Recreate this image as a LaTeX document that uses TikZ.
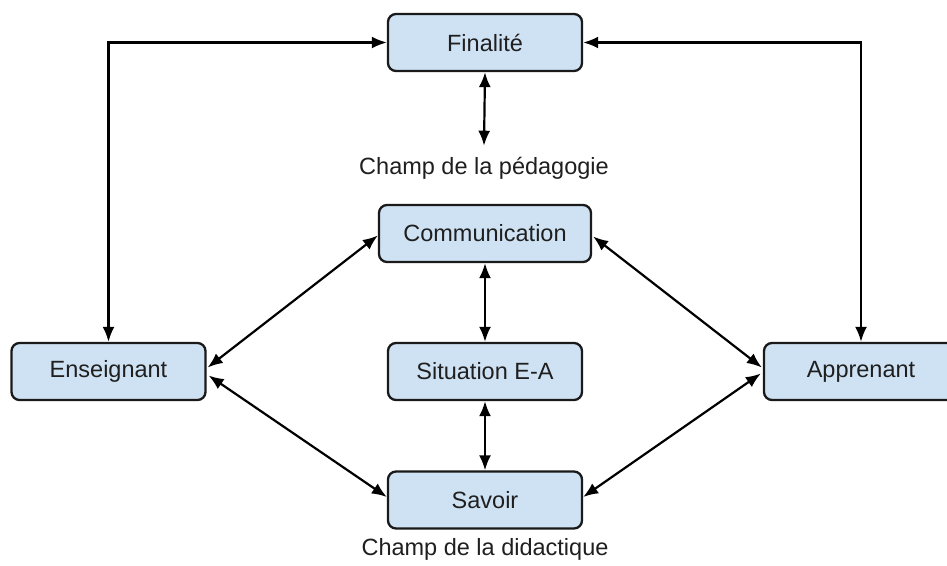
\documentclass[tikz,border=0pt]{standalone}
\usepackage{fontspec}
\setmainfont{Liberation Sans}
\usetikzlibrary{arrows.meta,calc}
\definecolor{boxfill}{HTML}{CFE2F3}
\definecolor{boxline}{HTML}{1A1A1A}
\begin{document}
\begin{tikzpicture}[x=1pt,y=-1pt,
  box/.style={draw=boxline,fill=boxfill,line width=2.3pt,rounded corners=8pt,
    minimum height=57pt,inner sep=0pt,font=\fontsize{23.5}{28}\selectfont,text=black!88},
  lbl/.style={inner sep=0pt,font=\fontsize{23.5}{28}\selectfont,text=black!88},
  conn/.style={line width=2.2pt,{Latex[length=15pt,width=12pt]}-{Latex[length=15pt,width=12pt]}}]
\clip (0,0) rectangle (947,565);
\fill[white] (0,0) rectangle (947,565);
\node[box,minimum width=194pt] (fin) at (485,42.5) {Finalité};
\node[lbl] (ped) at (484,168) {Champ de la pédagogie};
\node[box,minimum width=212pt] (com) at (485,233.5) {Communication};
\node[box,minimum width=194pt] (ens) at (108.5,371.5) {Enseignant};
\node[box,minimum width=194pt] (sit) at (485,371.5) {Situation E-A};
\node[box,minimum width=194pt] (app) at (861,371.5) {Apprenant};
\node[box,minimum width=194pt] (sav) at (485,500) {Savoir};
\node[lbl] (did) at (485,549) {Champ de la didactique};
% connectors
\draw[conn] (fin.west) -| (ens.north);
\draw[conn] (fin.east) -| (app.north);
\draw[conn] (fin.south) -- ($(ped.north)+(0,-11)$);
\draw[conn] (com.south) -- (sit.north);
\draw[conn] (sit.south) -- (sav.north);
\draw[conn] ($(ens.east)+(1,-4)$) -- ($(com.west)+(0,2)$);
\draw[conn] ($(ens.east)+(2,4)$) -- ($(sav.west)+(0,-3)$);
\draw[conn] ($(app.west)+(-1,-4)$) -- ($(com.east)+(1,3)$);
\draw[conn] ($(app.west)+(-2,2)$) -- ($(sav.east)+(0,-3)$);
\end{tikzpicture}
\end{document}
